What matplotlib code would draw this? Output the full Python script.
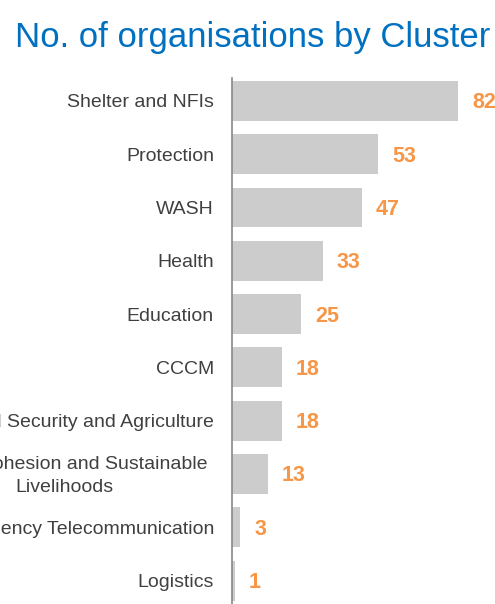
import matplotlib
matplotlib.use("Agg")
import matplotlib.pyplot as plt
from matplotlib.transforms import ScaledTranslation

categories = ["Shelter and NFIs", "Protection", "WASH", "Health", "Education", "CCCM",
              "Food Security and Agriculture",
              "Social Cohesion and Sustainable\nLivelihoods",
              "Emergency Telecommunication", "Logistics"]
values = [82, 53, 47, 33, 25, 18, 18, 13, 3, 1]
title = "No. of organisations by Cluster"

plt.rcParams['font.family'] = ['Liberation Sans', 'DejaVu Sans']

fig = plt.figure(figsize=(4.95, 6.04), dpi=100)
ax = fig.add_axes([232/495, 0.0, 1 - 232/495, 1 - 78/604])

y = list(range(len(categories)))
ax.barh(y, values, height=0.75, color="#CCCCCC", zorder=2)
ax.set_xlim(0, 263/2.756)
ax.set_ylim(9.44, -0.43)
ax.set_yticks(y)
tick_texts = [c if "\n" not in c else "" for c in categories]
ax.set_yticklabels(tick_texts, fontsize=14, color="#404040")
ax.tick_params(axis='y', length=0, pad=13)
for yi, c in zip(y, categories):
    if "\n" in c:
        off = ScaledTranslation(-24/100, -2/100, fig.dpi_scale_trans)
        ax.text(0, yi, c, transform=ax.get_yaxis_transform() + off,
                ha='right', va='center', multialignment='center', linespacing=1.45,
                fontsize=14, color="#404040")
ax.set_xticks([])
for s in ["top", "right", "bottom"]:
    ax.spines[s].set_visible(False)
ax.spines["left"].set_color("#888888")
ax.spines["left"].set_linewidth(1.2)

for yi, v in zip(y, values):
    ax.annotate(str(v), xy=(v, yi), xytext=(14, -2), textcoords='offset pixels',
                ha='left', va='center', fontsize=15.5, fontweight='bold', color="#F79646")

fig.text(253/495, 1 - 38/604, title, ha='center', va='center', fontsize=25, color="#0070C0")

fig.savefig("out.png", dpi=100)
